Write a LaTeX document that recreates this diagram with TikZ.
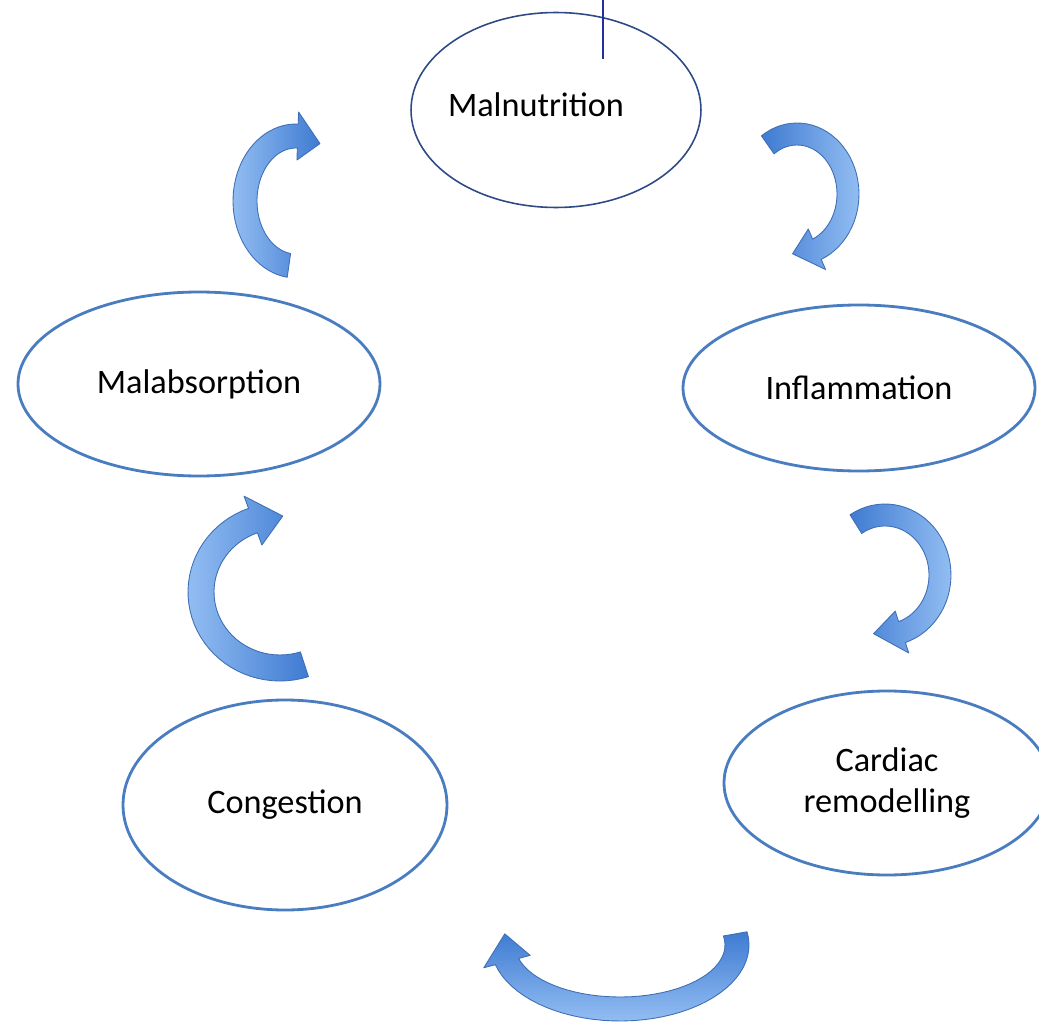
\documentclass[tikz,border=0pt]{standalone}
\usepackage{fontspec}
\setmainfont{Carlito}
\usetikzlibrary{shapes.geometric}

\definecolor{stageblue}{HTML}{4A7DC0}
\definecolor{navyline}{HTML}{2E4A86}
\definecolor{cursorblue}{HTML}{22309C}
\definecolor{arrowdark}{HTML}{3F7BD2}
\definecolor{arrowlight}{HTML}{92BDF2}
\definecolor{arrowedge}{HTML}{3E6FB5}

\tikzset{
  stage/.style={ellipse, draw=stageblue, line width=1.6pt, align=center,
    font=\fontsize{19.5}{23}\selectfont, inner sep=0pt},
  arrowband/.style={draw=arrowedge, line width=0.5pt, line join=round},
  shadeLR/.style={left color=arrowdark, right color=arrowlight},
  shadeRL/.style={left color=arrowlight, right color=arrowdark},
  shadeTB/.style={top color=arrowdark, bottom color=arrowlight},
}

% bent arrow: [shading] cx cy rx ry from to halfwidth tip
\newcommand{\bentarrow}[9][]{%
  \path[arrowband,#1] plot[domain=#6:#7, samples=40] ({#2+(#4+#8)*cos(\x)},{#3+(#5+#8)*sin(\x)})
    -- ({#2+(#4+2*#8)*cos(#7)},{#3+(#5+2*#8)*sin(#7)})
    -- ({#2+#4*cos(#9)},{#3+#5*sin(#9)})
    -- ({#2+(#4-2*#8)*cos(#7)},{#3+(#5-2*#8)*sin(#7)})
    -- plot[domain=#7:#6, samples=40] ({#2+(#4-#8)*cos(\x)},{#3+(#5-#8)*sin(\x)})
    -- cycle;}

\begin{document}
\begin{tikzpicture}[x=0.02cm, y=-0.02cm]

\useasboundingbox (0,0) rectangle (1039,1024);
\clip (0,0) rectangle (1039,1024);

\node[stage, draw=navyline, line width=0.9pt, minimum width=5.8cm, minimum height=3.9cm]
  (malnutrition) at (556,110) {\hspace*{-0.8cm}\raisebox{0.2cm}{Malnutrition}};

\foreach \nm/\px/\py/\ww/\hh/\txt in {inflammation/859/388/352/166/Inflammation,
    remodelling/887/783/326/184/{Cardiac\\remodelling},
    congestion/285/805/324/210/Congestion,
    malabsorption/199/384/362/184/Malabsorption}
  \node[stage, minimum width=\ww*0.02cm, minimum height=\hh*0.02cm] (\nm) at (\px,\py) {\txt};

\draw[cursorblue, line width=0.6pt] (603,0) -- (603,59);

\foreach \cx/\cy/\rx/\ry/\ta/\tb/\hw/\tip/\sh in {797/194/51/60/-125/67/11/95/shadeLR,
    885/575/55/60/-122/72/11/102/shadeLR,
    620/945/117/64/-10/165/12/190/shadeTB,
    280/592/79/76/72/250/13/272/shadeRL,
    296/201/51/65/98/272/12/298/shadeRL}
  \bentarrow[\sh]{\cx}{\cy}{\rx}{\ry}{\ta}{\tb}{\hw}{\tip};

\end{tikzpicture}
\end{document}
